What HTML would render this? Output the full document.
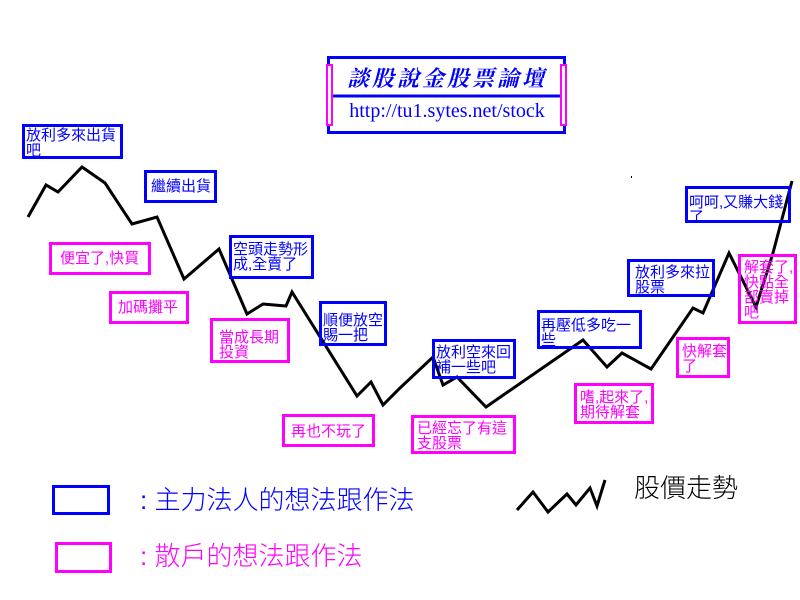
<!DOCTYPE html>
<html><head><meta charset="utf-8"><style>
body{margin:0;width:800px;height:600px;background:#fff;position:relative;overflow:hidden;font-family:"Liberation Sans","Noto Sans CJK TC","WenQuanYi Zen Hei",sans-serif}
.b{position:absolute;box-sizing:border-box;border:3px solid #0000ff;color:#0000ff;font-size:15px;line-height:15px;padding:1px 0 0 1px;overflow:hidden;white-space:normal;word-break:break-all}
.m{border-color:#ff00ff;color:#ff00ff}
.t{position:absolute;font-size:26px;line-height:28px;font-weight:300}
</style></head><body>
<svg width="800" height="600" style="position:absolute;left:0;top:0">
<polyline fill="none" stroke="#000" stroke-width="3" points="28,217 46,185 58,192 82,167 105,183 132,224 157,217 184,279 219,249 247,314 263,304 286,306 292,292 357,396 371,382 383,405 400,388 433,357 443,385 457,377 486,407 583,340 607,367 622,353 651,369 693,308 703,313 729,253 756,307 773,253 792,181"/>
<polyline fill="none" stroke="#000" stroke-width="3" points="517,510 533,492 548,512 567,494 576,505 590,488 597,506 605,480"/>
<rect x="328.5" y="57.5" width="236" height="75" fill="none" stroke="#0000ff" stroke-width="3"/>
<line x1="328" y1="96" x2="565" y2="96" stroke="#0000ff" stroke-width="3"/>
<rect x="327" y="65" width="5" height="60" fill="#fff" stroke="#ff00ff" stroke-width="2"/>
<rect x="561" y="65" width="5" height="60" fill="#fff" stroke="#ff00ff" stroke-width="2"/>
<rect x="631" y="176" width="1" height="2" fill="#000"/>
</svg>
<div style="position:absolute;left:333px;top:62px;width:228px;text-align:center;color:#0000ff;font-size:22px;font-weight:bold;font-style:italic;letter-spacing:3px;font-family:'Liberation Serif','Noto Serif CJK SC',serif">談股說金股票論壇</div>
<div style="position:absolute;left:333px;top:100px;width:228px;text-align:center;color:#0000ff;font-size:20px;font-family:'Liberation Serif',serif">http://tu1.sytes.net/stock</div>

<div class="b" style="left:22px;top:124px;width:101px;height:35px">放利多來出貨吧</div>
<div class="b" style="left:144px;top:170px;width:73px;height:33px;padding:6px 0 0 4px">繼續出貨</div>
<div class="b" style="left:229px;top:235px;width:85px;height:44px;padding-top:4px">空頭走勢形成,全賣了</div>
<div class="b" style="left:319px;top:301px;width:68px;height:45px;padding-top:9px">順便放空賜一把</div>
<div class="b" style="left:432px;top:339px;width:84px;height:40px;padding-top:3px">放利空來回補一些吧</div>
<div class="b" style="left:537px;top:310px;width:105px;height:39px;padding-top:5px">再壓低多吃一些</div>
<div class="b" style="left:627px;top:259px;width:88px;height:38px;padding:3px 0 0 5px">放利多來拉股票</div>
<div class="b" style="left:685px;top:186px;width:106px;height:37px;padding-top:6px">呵呵,又賺大錢了</div>

<div class="b m" style="left:49px;top:242px;width:102px;height:33px;padding:6px 0 0 8px">便宜了,快買</div>
<div class="b m" style="left:109px;top:291px;width:80px;height:33px;padding:6px 0 0 6px">加碼攤平</div>
<div class="b m" style="left:210px;top:318px;width:80px;height:45px;padding:9px 0 0 6px">當成長期投資</div>
<div class="b m" style="left:282px;top:414px;width:93px;height:33px;padding:7px 0 0 6px">再也不玩了</div>
<div class="b m" style="left:411px;top:415px;width:105px;height:39px;padding:3px 0 0 3px">已經忘了有這支股票</div>
<div class="b m" style="left:574px;top:383px;width:80px;height:41px;padding:4px 0 0 3px">嗜,起來了,期待解套</div>
<div class="b m" style="left:676px;top:337px;width:54px;height:41px;padding:4px 0 0 3px">快解套了</div>
<div class="b m" style="left:738px;top:254px;width:59px;height:70px;padding:3px 0 0 3px">解套了,快點全部賣掉吧</div>

<div style="position:absolute;left:52px;top:485px;width:58px;height:30px;box-sizing:border-box;border:3px solid #0000ff"></div>
<div style="position:absolute;left:55px;top:542px;width:57px;height:31px;box-sizing:border-box;border:3px solid #ff00ff"></div>
<div class="t" style="left:140px;top:486px;color:#0000ff">: 主力法人的想法跟作法</div>
<div class="t" style="left:140px;top:542px;color:#ff00ff">: 散戶的想法跟作法</div>
<div class="t" style="left:634px;top:474px;color:#000">股價走勢</div>
</body></html>
